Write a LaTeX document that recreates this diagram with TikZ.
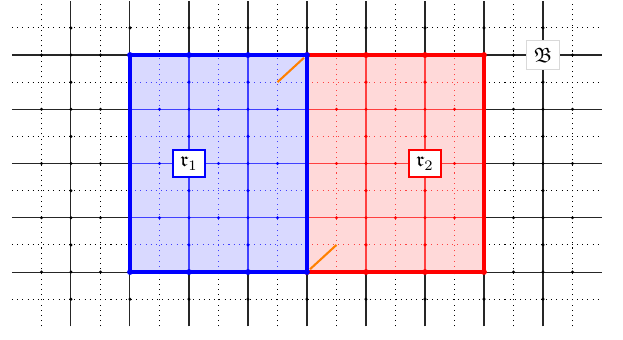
\documentclass[tikz,border=0pt]{standalone}
\usepackage{amssymb}
\begin{document}
\begin{tikzpicture}[x=1cm, y=0.9195cm, line width=0.5pt,
    lbl/.style={fill=white, draw=#1, line width=0.8pt, inner sep=3.5pt}]
      \useasboundingbox (-2.203,-1.235) rectangle (8.356,5.014);

      % plain grid
      \foreach \x in {-1,...,7} \draw[black!85] (\x,-1) -- (\x,5);
      \foreach \x in {-1.5,-0.5,...,7.5} \draw[dotted] (\x,-1) -- (\x,5);
      \foreach \y in {0,...,4} \draw[black!85] (-2,\y) -- (8,\y);
      \foreach \y in {-0.5,0.5,...,4.5} \draw[dotted] (-2,\y) -- (8,\y);
      \foreach \x in {-1,...,7} \foreach \y in {-0.5,0,...,4.5} \fill (\x,\y) circle (0.8pt);
      \foreach \x in {-1.5,-0.5,...,7.5} \foreach \y in {0,...,4} \fill (\x,\y) circle (0.8pt);

      % the two regions
      \foreach \c/\a in {red/3, blue/0} {
        \begin{scope}
          \clip (\a,0) rectangle ++(3,4);
          \fill[\c!15] (\a,0) rectangle ++(3,4);
          \foreach \x in {0,...,3} \draw[\c!75] (\a+\x,0) -- (\a+\x,4);
          \foreach \x in {0.5,1.5,2.5} \draw[\c!75, dotted] (\a+\x,0) -- (\a+\x,4);
          \foreach \y in {0,...,4} \draw[\c!75] (\a,\y) -- (\a+3,\y);
          \foreach \y in {0.5,1.5,2.5,3.5} \draw[\c!75, dotted] (\a,\y) -- (\a+3,\y);
          \foreach \x in {0,...,3} \foreach \y in {0,0.5,...,4} \fill[\c] (\a+\x,\y) circle (0.8pt);
          \foreach \x in {0.5,1.5,2.5} \foreach \y in {0,...,4} \fill[\c] (\a+\x,\y) circle (0.8pt);
        \end{scope}
        \draw[\c, line width=2.2pt] (\a,0) rectangle ++(3,4);
        \foreach \x in {0,...,3} {
          \fill[\c] (\a+\x,0) circle (1.4pt);
          \fill[\c] (\a+\x,4) circle (1.4pt);
        }
      }

      % orange marks
      \coordinate (p1) at (2.5,3.5);
      \coordinate (q1) at (3,4);
      \coordinate (p2) at (3,0);
      \coordinate (q2) at (3.5,0.5);
      \draw[orange, line width=1pt, shorten >=2pt] (p1) -- (q1);
      \draw[orange, line width=1pt, shorten <=2pt] (p2) -- (q2);

      \node[lbl=blue] (r1) at (1,2) {$\mathfrak{r}_1$};
      \node[lbl=red] (r2) at (5,2) {$\mathfrak{r}_2$};
      \node[lbl=black!15] (B) at (7,4) {$\mathfrak{B}$};
    \end{tikzpicture}
\end{document}
